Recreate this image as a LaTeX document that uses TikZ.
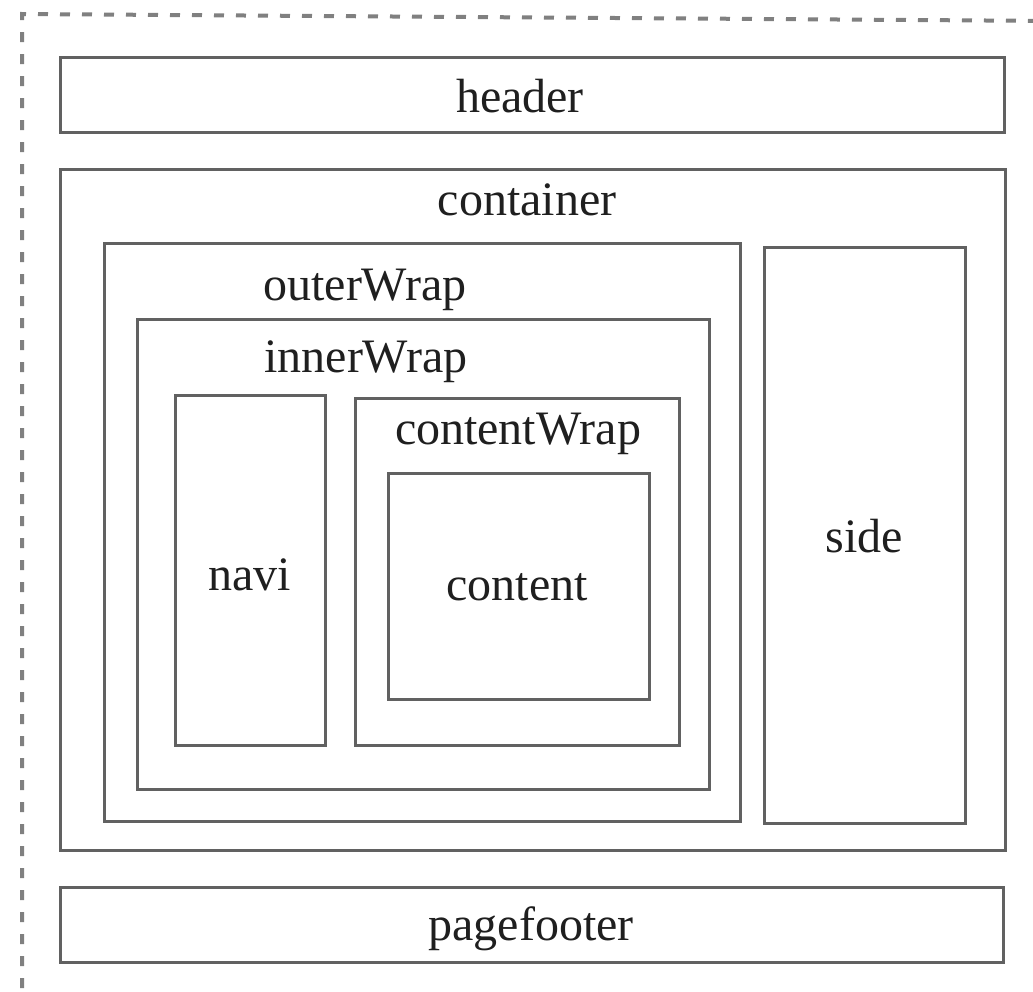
\documentclass[tikz,border=0pt]{standalone}
\usepackage{fontspec}
\setmainfont{Liberation Serif}
\usetikzlibrary{fit}

\tikzset{
  layoutbox/.style={draw=black!62, line width=3pt, inner sep=0pt, fill=none},
  boxlabel/.style={anchor=base, inner sep=0pt, text=black!88,
    font=\fontsize{48}{56}\selectfont},
  pageedge/.style={draw=black!50, line width=4pt, dash pattern=on 10pt off 12pt},
}

\begin{document}
\begin{tikzpicture}[x=1pt, y=-1pt]
  \useasboundingbox (0,0) rectangle (1033,991);
  \fill[white] (0,0) rectangle (1033,991);

  % page outline, only its left and top edges lie on the page
  \begin{scope}
    \clip (0,0) rectangle (1033,991);
    \coordinate (pageTL) at (22,14);
    \coordinate (pageTR) at (1060,21);
    \coordinate (pageBL) at (22,1010);
    \draw[pageedge] (pageBL) -- (pageTL) -- (pageTR);
  \end{scope}

  % boxes
  \node[layoutbox, fit={(60,57) (1004,132)}] (header) {};
  \node[layoutbox, fit={(60,169) (1005,850)}] (container) {};
  \node[layoutbox, fit={(104,243) (740,821)}] (outerWrap) {};
  \node[layoutbox, fit={(764,247) (965,823)}] (side) {};
  \node[layoutbox, fit={(137,319) (709,789)}] (innerWrap) {};
  \node[layoutbox, fit={(175,395) (325,745)}] (navi) {};
  \node[layoutbox, fit={(355,398) (679,745)}] (contentWrap) {};
  \node[layoutbox, fit={(388,473) (649,699)}] (content) {};
  \node[layoutbox, fit={(60,887) (1003,962)}] (pagefooter) {};

  % labels
  \node[boxlabel] (headerText) at (520,112) {header};
  \node[boxlabel] (containerText) at (527,215) {container};
  \node[boxlabel] (outerWrapText) at (365,300) {outerWrap};
  \node[boxlabel] (innerWrapText) at (366,372) {innerWrap};
  \node[boxlabel] (contentWrapText) at (518,444) {contentWrap};
  \node[boxlabel] (naviText) at (250,590) {navi};
  \node[boxlabel] (contentText) at (517,600) {content};
  \node[boxlabel] (sideText) at (864,552) {side};
  \node[boxlabel] (pagefooterText) at (531,940) {pagefooter};
\end{tikzpicture}
\end{document}
